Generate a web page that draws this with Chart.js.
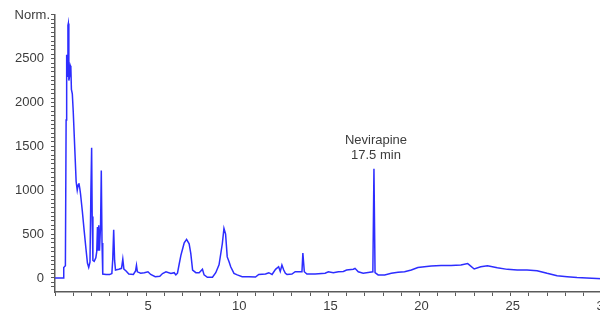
<!DOCTYPE html>
<html>
<head>
<meta charset="utf-8">
<script src="https://cdn.jsdelivr.net/npm/chart.js@4"></script>
<style>
  html, body { margin: 0; padding: 0; background: #fff; overflow: hidden; }
  #wrap { width: 612px; height: 325px; }
</style>
</head>
<body>
<div id="wrap"><canvas id="c" width="612" height="325"></canvas></div>
<script>
// Retention time (min) and detector response (Norm.) of the chromatogram trace
const times = [
  0, 0.44, 0.48, 0.57, 0.61, 0.63, 0.65, 0.68, 0.71, 0.73, 0.76, 0.80, 0.84, 0.87, 0.90, 0.95,
  1.0, 1.09, 1.16, 1.22, 1.27, 1.31, 1.36, 1.40, 1.5, 1.6, 1.7, 1.78, 1.85, 1.92, 1.97, 2.01,
  2.04, 2.08, 2.15, 2.24, 2.29, 2.33, 2.36, 2.40, 2.44, 2.50, 2.54, 2.58, 2.62, 2.8, 3.0, 3.12,
  3.17, 3.22, 3.27, 3.32, 3.5, 3.65, 3.72, 3.78, 3.9, 4.05, 4.3, 4.42, 4.47, 4.52, 4.7, 4.9,
  5.1, 5.25, 5.5, 5.75, 5.9, 6.09, 6.36, 6.54, 6.63, 6.72, 6.82, 6.91, 7.0, 7.09, 7.22, 7.36,
  7.45, 7.55, 7.73, 7.91, 8.09, 8.18, 8.36, 8.64, 8.82, 9.0, 9.18, 9.27, 9.36, 9.45, 9.55, 9.64,
  9.82, 10.0, 10.27, 10.64, 11.0, 11.18, 11.55, 11.73, 11.91, 12.1, 12.27, 12.36, 12.45, 12.55, 12.64, 12.73,
  13.0, 13.18, 13.55, 13.6, 13.68, 13.82, 14.27, 14.82, 15.0, 15.27, 15.55, 15.82, 16.0, 16.37, 16.46, 16.64,
  16.91, 17.27, 17.44, 17.5, 17.56, 17.73, 18.09, 18.45, 18.82, 19.18, 19.55, 19.91, 20.27, 20.64, 21.18, 21.73,
  22.27, 22.64, 22.73, 23.0, 23.36, 23.73, 24.27, 24.82, 25.36, 25.9, 26.45, 27.0, 27.55, 28.1, 28.64, 29.18,
  29.73, 30
];
const signal = [
  0, 0, 120, 140, 1800, 2450, 2545, 2300, 2880, 2900, 2250, 2300, 2420, 2400, 2150, 2100,
  1900, 1450, 1100, 1000, 1060, 1080, 1020, 960, 760, 540, 330, 170, 120, 180, 1000, 1485,
  700, 200, 190, 230, 300, 580, 320, 600, 310, 600, 1225, 400, 45, 40, 40, 50,
  220, 550, 200, 90, 100, 110, 215, 100, 80, 45, 40, 80, 145, 70, 55, 60,
  70, 40, 15, 20, 50, 70, 50, 60, 35, 55, 165, 260, 330, 400, 440, 390,
  280, 90, 60, 60, 100, 35, 8, 8, 60, 150, 390, 565, 500, 240, 185, 128,
  53, 35, 15, 15, 10, 40, 45, 60, 40, 98, 128, 75, 147, 90, 53, 40,
  45, 71, 71, 285, 71, 45, 45, 55, 71, 60, 71, 75, 90, 100, 110, 70,
  55, 65, 70, 1245, 60, 35, 35, 53, 65, 71, 90, 120, 128, 136, 143, 143,
  147, 165, 150, 102, 128, 140, 117, 98, 90, 90, 83, 53, 26, 15, 4, 0,
  -5, -8
];

// Axis ticks: minor marks every 1 min / 50 units, labels on the majors
const xTickValues = Array.from({ length: 31 }, (_, i) => i);
const xLabelValues = [5, 10, 15, 20, 25, 30];
const yTickValues = Array.from({ length: 63 }, (_, i) => -100 + i * 50);
const yLabelValues = [0, 500, 1000, 1500, 2000, 2500];
const yUnitLabel = 'Norm.';

// Labelled peak
const peakTime = 17.5;
const peakValue = 1245;
const peakLabel = ['Nevirapine', '17.5 min'];

const axisColor = '#5a5a5a';
const textColor = '#3c3c3c';
const font = { family: '"Liberation Sans", Arial, sans-serif', size: 13 };

const annotate = {
  id: 'annotate',
  afterDraw(chart) {
    const { ctx, scales: { x, y } } = chart;
    ctx.save();
    ctx.fillStyle = textColor;
    ctx.font = '13px "Liberation Sans", Arial, sans-serif';
    ctx.textBaseline = 'middle';
    // unit label at the top of the value axis
    ctx.textAlign = 'right';
    ctx.fillText(yUnitLabel, x.left - 5, y.getPixelForValue(3000) + 1);
    // peak label
    ctx.textAlign = 'center';
    const px = x.getPixelForValue(peakTime) + 2;
    const py = y.getPixelForValue(peakValue);
    ctx.fillText(peakLabel[0], px, py - 28);
    ctx.fillText(peakLabel[1], px, py - 13);
    ctx.restore();
  }
};

new Chart(document.getElementById('c'), {
  type: 'line',
  data: {
    datasets: [{
      data: times.map((t, i) => ({ x: t, y: signal[i] })),
      borderColor: 'rgb(45,45,255)',
      borderWidth: 1.5,
      pointRadius: 0,
      tension: 0,
      fill: false
    }]
  },
  options: {
    responsive: false,
    animation: false,
    events: [],
    layout: { padding: { top: 13, right: 0, bottom: 0, left: 0 } },
    plugins: { legend: { display: false }, tooltip: { enabled: false } },
    scales: {
      x: {
        type: 'linear',
        min: 0,
        max: 30,
        afterFit: s => { s.height = 33; },
        afterBuildTicks: s => { s.ticks = xTickValues.map(v => ({ value: v })); },
        border: { display: true, color: axisColor, width: 1.5 },
        grid: { drawOnChartArea: false, drawTicks: true, tickLength: 4, color: axisColor, tickColor: axisColor },
        ticks: {
          autoSkip: false,
          maxRotation: 0,
          padding: 3,
          labelOffset: 2,
          color: textColor,
          font,
          callback: v => (xLabelValues.includes(v) ? String(v) : '')
        }
      },
      y: {
        type: 'linear',
        min: -160,
        max: 3000,
        afterFit: s => { s.width = 55; },
        afterBuildTicks: s => { s.ticks = yTickValues.map(v => ({ value: v })); },
        border: { display: true, color: axisColor, width: 1.5 },
        grid: { drawOnChartArea: false, drawTicks: true, tickLength: 4, color: axisColor, tickColor: axisColor },
        ticks: {
          autoSkip: false,
          padding: 7,
          color: textColor,
          font,
          callback: v => (yLabelValues.includes(v) ? String(v) : '')
        }
      }
    }
  },
  plugins: [annotate]
});
</script>
</body>
</html>
